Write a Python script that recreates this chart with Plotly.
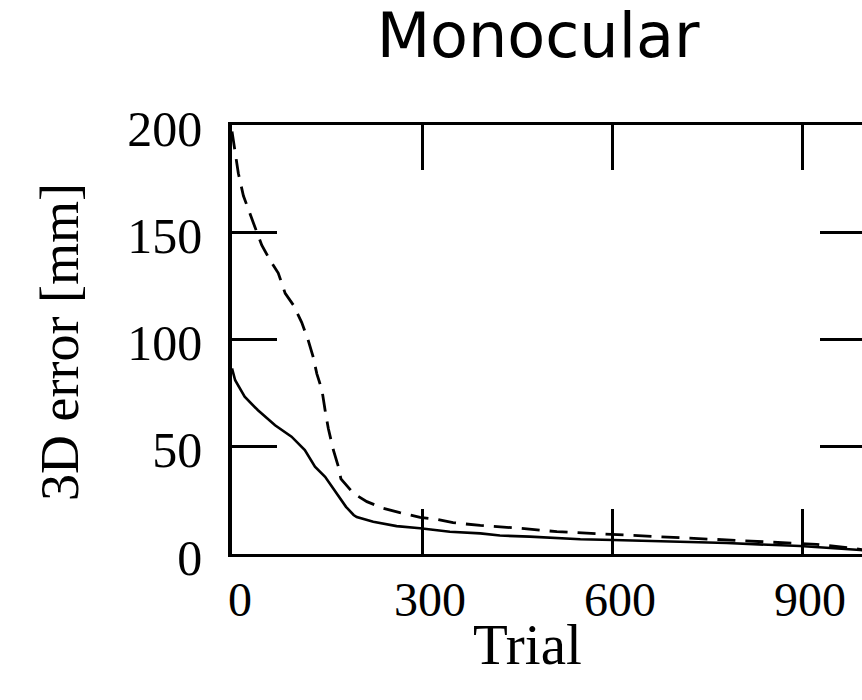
import plotly.graph_objects as go

# Dashed series (upper curve)
dashed_trial = [0, 10, 18, 26, 36, 47, 60, 73, 84, 97, 110, 120, 128, 134, 142, 147, 152, 160, 168, 172,
                192, 213, 239, 265, 297, 323, 349, 392, 455, 513, 570, 628, 686, 750, 807, 865, 923, 981, 1000]
dashed_err = [197, 177.5, 167, 161, 152.6, 144, 137, 131, 121.5, 116, 108, 100, 92, 84, 76.5, 67, 58.6, 48.5, 40.7, 35,
              28.2, 24.4, 21.3, 19.3, 17.1, 16.2, 14.6, 13.3, 12, 10.4, 9.6, 8.9, 7.9, 7, 6.2, 5.4, 4.5, 2.6, 1.8]

# Solid series (lower curve)
solid_trial = [0, 5, 20, 41, 68, 94, 115, 131, 147, 168, 180, 192, 197, 223, 260, 297, 344, 392, 423, 470,
               550, 602, 676, 707, 781, 897, 992, 1000]
solid_err = [86.5, 81, 73.3, 67, 60, 54.7, 48.5, 40.7, 36, 26.7, 22, 18.2, 17.2, 15, 13, 12, 10.4, 9.6, 8.6, 8.1,
             6.9, 6.5, 6.1, 5.7, 5.1, 3.7, 1.9, 1.5]

x_ticks = [0, 300, 600, 900]
y_ticks = [0, 50, 100, 150, 200]

XTICK_FONT = dict(family="Liberation Serif", size=48, color="black")
YTICK_FONT = dict(family="Liberation Serif", size=50, color="black")
YLABEL_FONT = dict(family="Liberation Serif", size=54, color="black")
XLABEL_FONT = dict(family="Liberation Serif", size=57, color="black")

W, H = 862, 700
PL, PT, PB = 232, 125, 554  # plot-area edges in figure pixels
PW, PH = W - PL, PB - PT

fig = go.Figure()
fig.add_trace(go.Scatter(x=dashed_trial, y=dashed_err, mode="lines",
                         line=dict(color="black", width=2.8, dash="18px,10px"),
                         showlegend=False, hoverinfo="skip"))
fig.add_trace(go.Scatter(x=solid_trial, y=solid_err, mode="lines",
                         line=dict(color="black", width=2.6),
                         showlegend=False, hoverinfo="skip"))
# helper trace for the right-side tick axis
fig.add_trace(go.Scatter(x=[None], y=[None], yaxis="y2", showlegend=False, hoverinfo="skip"))

fig.update_layout(
    template="none",
    width=W, height=H,
    margin=dict(l=PL, r=0, t=PT, b=H - PB, pad=0, autoexpand=False),
    paper_bgcolor="white", plot_bgcolor="white",
    xaxis=dict(range=[0, 994.7], tickvals=x_ticks, ticktext=[str(v) for v in x_ticks],
               ticks="inside", ticklen=45, tickwidth=2.5, tickcolor="black",
               showline=True, linewidth=3, linecolor="black", mirror="ticks",
               showgrid=False, zeroline=False, tickfont=XTICK_FONT, automargin=False,
               ticklabelstandoff=1, ticklabelshift=8, fixedrange=True),
    yaxis=dict(range=[0, 200], tickvals=y_ticks, ticktext=[str(v) for v in y_ticks],
               ticks="inside", ticklen=45, tickwidth=2.5, tickcolor="black",
               showline=True, linewidth=3.5, linecolor="black",
               showgrid=False, zeroline=False, tickfont=YTICK_FONT, automargin=False,
               ticklabelstandoff=16, ticklabelshift=3, fixedrange=True),
    yaxis2=dict(range=[0, 200], tickvals=y_ticks, overlaying="y", side="right", anchor="x",
                ticks="inside", ticklen=42, tickwidth=2.5, tickcolor="black",
                showline=False, showgrid=False, zeroline=False, showticklabels=False,
                automargin=False, fixedrange=True),
    title=dict(text="Monocular", font=dict(family="DejaVu Sans", size=62, color="black"),
               x=538 / W, xanchor="center", xref="container",
               y=1 - 35 / H, yanchor="middle", yref="container"),
    annotations=[
        dict(text="3D error [mm]", xref="paper", yref="paper",
             x=(60 - PL) / PW, y=(PB - 342) / PH, xanchor="center", yanchor="middle",
             textangle=-90, showarrow=False, font=YLABEL_FONT),
        dict(text="Trial", xref="paper", yref="paper",
             x=(527 - PL) / PW, y=(PB - 644) / PH, xanchor="center", yanchor="middle",
             showarrow=False, font=XLABEL_FONT),
    ],
)

# remove the browser's default 8px body margin so the figure fills the window exactly
fig.write_html("out.html", config={"displayModeBar": False},
               post_script="document.body.style.margin='0';")
